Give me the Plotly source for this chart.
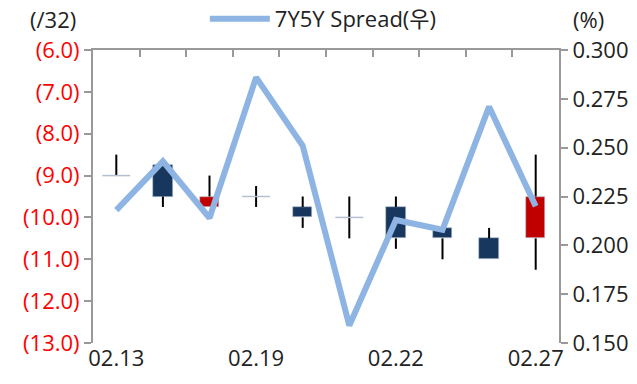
import plotly.graph_objects as go

dates = ["02.13", "02.14", "02.15", "02.19", "02.20", "02.21", "02.22", "02.23", "02.26", "02.27"]
label_dates = ["02.13", "02.19", "02.22", "02.27"]
open_ = [-9.0, -8.75, -9.75, -9.5, -9.75, -10.0, -9.75, -10.25, -10.5, -10.5]
high = [-8.5, -8.75, -9.0, -9.25, -9.5, -9.5, -9.5, -10.25, -10.25, -8.5]
low = [-9.0, -9.75, -9.75, -9.75, -10.25, -10.5, -10.75, -11.0, -11.0, -11.25]
close = [-9.0, -9.5, -9.5, -9.5, -10.0, -10.0, -10.5, -10.5, -11.0, -9.5]
spread = [0.218, 0.243, 0.214, 0.286, 0.251, 0.159, 0.213, 0.208, 0.271, 0.220]

left_ticks = [-13, -12, -11, -10, -9, -8, -7, -6]
left_text = ["(%.1f)" % abs(v) for v in left_ticks]

UP = "#C00000"
DOWN = "#17375E"
FONT = '"Open Sans", "Noto Sans CJK KR", sans-serif'
FS = 22

fig = go.Figure()

# wicks (upper and lower segments, outside the body)
wx, wy = [], []
for d, o, h, l, c in zip(dates, open_, high, low, close):
    top, bot = max(o, c), min(o, c)
    if h > top:
        wx += [d, d, None]; wy += [h, top, None]
    if l < bot:
        wx += [d, d, None]; wy += [bot, l, None]
fig.add_trace(go.Scatter(x=wx, y=wy, mode="lines", line=dict(color="black", width=2),
                         showlegend=False, hoverinfo="skip", connectgaps=False))

# bodies
body_x, body_base, body_h, body_col = [], [], [], []
for d, o, c in zip(dates, open_, close):
    if o != c:
        body_x.append(d)
        body_base.append(min(o, c))
        body_h.append(abs(o - c))
        body_col.append(UP if c > o else DOWN)
fig.add_trace(go.Bar(x=body_x, y=body_h, base=body_base, width=0.42,
                     marker=dict(color=body_col, line=dict(color="#B8C4D6", width=0.6)),
                     showlegend=False, hoverinfo="skip"))

# doji
doji_y = [c if o == c else None for o, c in zip(open_, close)]
fig.add_trace(go.Scatter(x=dates, y=doji_y, mode="markers",
                         marker=dict(symbol="line-ew", size=20,
                                     line=dict(color="#B4C0D0", width=1.5)),
                         showlegend=False, hoverinfo="skip"))

# spread line on right axis
fig.add_trace(go.Scatter(x=dates, y=spread, mode="lines", name="7Y5Y Spread(우)",
                         line=dict(color="#8EB4E3", width=6), yaxis="y2"))

# invisible trace for top boundary-tick axis
fig.add_trace(go.Scatter(x=[0], y=[None], xaxis="x2", showlegend=False, hoverinfo="skip"))

fig.update_layout(
    width=637, height=384,
    margin=dict(l=93, r=78, t=50, b=41, autoexpand=False),
    plot_bgcolor="white", paper_bgcolor="white",
    font=dict(family=FONT, size=FS, color="#222222"),
    bargap=0,
    xaxis=dict(type="category", categoryorder="array", categoryarray=dates,
               range=[-0.5, len(dates) - 0.5],
               tickmode="array", tickvals=label_dates, ticktext=label_dates,
               ticks="", showline=False, showgrid=False, zeroline=False,
               tickfont=dict(size=FS, color="#222222")),
    xaxis2=dict(overlaying="x", side="top", range=[-0.5, len(dates) - 0.5],
                tickmode="array", tickvals=[i - 0.5 for i in range(len(dates) + 1)],
                ticks="inside", ticklen=7, tickcolor="#999999", tickwidth=2,
                showticklabels=False, showline=True, linecolor="#999999", linewidth=2,
                showgrid=False, zeroline=False),
    yaxis=dict(range=[-13, -6], tickmode="array", tickvals=left_ticks, ticktext=left_text,
               tickfont=dict(color="#FF0000", size=FS), showgrid=False, zeroline=False,
               showline=True, linecolor="#999999", linewidth=2,
               ticks="outside", ticklen=7, tickcolor="#999999", tickwidth=2),
    yaxis2=dict(range=[0.15, 0.30], overlaying="y", side="right", dtick=0.025,
                tick0=0.15, tickformat=".3f", showgrid=False, zeroline=False,
                showline=True, linecolor="#999999", linewidth=2,
                ticks="outside", ticklen=7, tickcolor="#999999", tickwidth=2,
                tickfont=dict(size=FS, color="#222222")),
    legend=dict(orientation="h", x=0.24, xanchor="left", y=1.106, yanchor="middle",
                itemwidth=60, font=dict(size=FS, color="#222222"),
                bgcolor="rgba(0,0,0,0)"),
    showlegend=True,
    hovermode=False,
    annotations=[
        dict(text="(/32)", xref="paper", yref="paper", x=-0.085, y=1.106,
             xanchor="center", yanchor="middle", showarrow=False,
             font=dict(size=FS, color="#222222")),
        dict(text="(%)", xref="paper", yref="paper", x=1.064, y=1.106,
             xanchor="center", yanchor="middle", showarrow=False,
             font=dict(size=FS, color="#222222")),
    ],
)

fig.write_html("out.html", config={"displayModeBar": False},
               post_script="document.body.style.margin='0px';")
